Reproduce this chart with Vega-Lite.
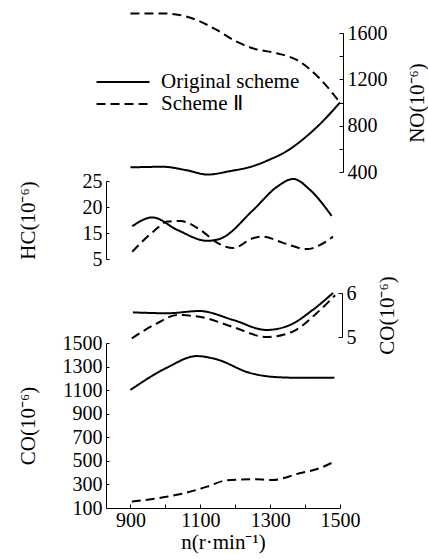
{
  "$schema": "https://vega.github.io/schema/vega-lite/v6.json",
  "width": 234,
  "height": 508,
  "autosize": "none",
  "padding": {"left": 106, "top": 0, "right": 88, "bottom": 51},
  "background": "white",
  "config": {
    "font": "Liberation Serif",
    "view": {"stroke": null},
    "axis": {"labelFont": "Liberation Serif", "titleFont": "Liberation Serif", "labelFontSize": 20, "titleFontSize": 21, "titleFontWeight": "normal", "labelColor": "black", "titleColor": "black", "domainColor": "black", "tickColor": "black", "grid": false},
    "legend": {"labelFont": "Liberation Serif", "labelFontSize": 21, "labelColor": "black"}
  },
  "data": {"values": [
    {"p": "NO", "s": "Original scheme", "n": 900, "v": 440},
    {"p": "NO", "s": "Original scheme", "n": 993, "v": 445},
    {"p": "NO", "s": "Original scheme", "n": 1061, "v": 415},
    {"p": "NO", "s": "Original scheme", "n": 1121, "v": 378},
    {"p": "NO", "s": "Original scheme", "n": 1184, "v": 407},
    {"p": "NO", "s": "Original scheme", "n": 1250, "v": 450},
    {"p": "NO", "s": "Original scheme", "n": 1299, "v": 508},
    {"p": "NO", "s": "Original scheme", "n": 1347, "v": 579},
    {"p": "NO", "s": "Original scheme", "n": 1393, "v": 680},
    {"p": "NO", "s": "Original scheme", "n": 1441, "v": 809},
    {"p": "NO", "s": "Original scheme", "n": 1500, "v": 1000},
    {"p": "NO", "s": "Scheme Ⅱ", "n": 900, "v": 1769},
    {"p": "NO", "s": "Scheme Ⅱ", "n": 993, "v": 1769},
    {"p": "NO", "s": "Scheme Ⅱ", "n": 1041, "v": 1755},
    {"p": "NO", "s": "Scheme Ⅱ", "n": 1090, "v": 1712},
    {"p": "NO", "s": "Scheme Ⅱ", "n": 1147, "v": 1626},
    {"p": "NO", "s": "Scheme Ⅱ", "n": 1204, "v": 1525},
    {"p": "NO", "s": "Scheme Ⅱ", "n": 1250, "v": 1468},
    {"p": "NO", "s": "Scheme Ⅱ", "n": 1319, "v": 1425},
    {"p": "NO", "s": "Scheme Ⅱ", "n": 1376, "v": 1368},
    {"p": "NO", "s": "Scheme Ⅱ", "n": 1441, "v": 1210},
    {"p": "NO", "s": "Scheme Ⅱ", "n": 1500, "v": 1000},
    {"p": "HC", "s": "Original scheme", "n": 905, "v": 16.3},
    {"p": "HC", "s": "Original scheme", "n": 963, "v": 18.0},
    {"p": "HC", "s": "Original scheme", "n": 1034, "v": 15.6},
    {"p": "HC", "s": "Original scheme", "n": 1120, "v": 13.5},
    {"p": "HC", "s": "Original scheme", "n": 1157, "v": 13.9},
    {"p": "HC", "s": "Original scheme", "n": 1251, "v": 19.4},
    {"p": "HC", "s": "Original scheme", "n": 1320, "v": 23.9},
    {"p": "HC", "s": "Original scheme", "n": 1366, "v": 25.4},
    {"p": "HC", "s": "Original scheme", "n": 1414, "v": 23.3},
    {"p": "HC", "s": "Original scheme", "n": 1476, "v": 18.3},
    {"p": "HC", "s": "Scheme Ⅱ", "n": 905, "v": 11.4},
    {"p": "HC", "s": "Scheme Ⅱ", "n": 966, "v": 15.3},
    {"p": "HC", "s": "Scheme Ⅱ", "n": 1006, "v": 17.2},
    {"p": "HC", "s": "Scheme Ⅱ", "n": 1043, "v": 17.3},
    {"p": "HC", "s": "Scheme Ⅱ", "n": 1100, "v": 15.6},
    {"p": "HC", "s": "Scheme Ⅱ", "n": 1149, "v": 13.1},
    {"p": "HC", "s": "Scheme Ⅱ", "n": 1194, "v": 12.1},
    {"p": "HC", "s": "Scheme Ⅱ", "n": 1251, "v": 14.0},
    {"p": "HC", "s": "Scheme Ⅱ", "n": 1280, "v": 14.3},
    {"p": "HC", "s": "Scheme Ⅱ", "n": 1337, "v": 13.1},
    {"p": "HC", "s": "Scheme Ⅱ", "n": 1406, "v": 11.9},
    {"p": "HC", "s": "Scheme Ⅱ", "n": 1443, "v": 12.7},
    {"p": "HC", "s": "Scheme Ⅱ", "n": 1480, "v": 14.3},
    {"p": "COs", "s": "Original scheme", "n": 907, "v": 5.56},
    {"p": "COs", "s": "Original scheme", "n": 1004, "v": 5.54},
    {"p": "COs", "s": "Original scheme", "n": 1098, "v": 5.59},
    {"p": "COs", "s": "Original scheme", "n": 1193, "v": 5.39},
    {"p": "COs", "s": "Original scheme", "n": 1290, "v": 5.16},
    {"p": "COs", "s": "Original scheme", "n": 1356, "v": 5.27},
    {"p": "COs", "s": "Original scheme", "n": 1421, "v": 5.61},
    {"p": "COs", "s": "Original scheme", "n": 1480, "v": 6.0},
    {"p": "COs", "s": "Scheme Ⅱ", "n": 904, "v": 4.97},
    {"p": "COs", "s": "Scheme Ⅱ", "n": 976, "v": 5.31},
    {"p": "COs", "s": "Scheme Ⅱ", "n": 1034, "v": 5.5},
    {"p": "COs", "s": "Scheme Ⅱ", "n": 1098, "v": 5.46},
    {"p": "COs", "s": "Scheme Ⅱ", "n": 1193, "v": 5.23},
    {"p": "COs", "s": "Scheme Ⅱ", "n": 1290, "v": 5.0},
    {"p": "COs", "s": "Scheme Ⅱ", "n": 1364, "v": 5.12},
    {"p": "COs", "s": "Scheme Ⅱ", "n": 1433, "v": 5.54},
    {"p": "COs", "s": "Scheme Ⅱ", "n": 1486, "v": 5.95},
    {"p": "CO", "s": "Original scheme", "n": 900, "v": 1102},
    {"p": "CO", "s": "Original scheme", "n": 1004, "v": 1290},
    {"p": "CO", "s": "Original scheme", "n": 1090, "v": 1389},
    {"p": "CO", "s": "Original scheme", "n": 1147, "v": 1361},
    {"p": "CO", "s": "Original scheme", "n": 1241, "v": 1247},
    {"p": "CO", "s": "Original scheme", "n": 1307, "v": 1213},
    {"p": "CO", "s": "Original scheme", "n": 1384, "v": 1205},
    {"p": "CO", "s": "Original scheme", "n": 1484, "v": 1205},
    {"p": "CO", "s": "Scheme Ⅱ", "n": 904, "v": 154},
    {"p": "CO", "s": "Scheme Ⅱ", "n": 1004, "v": 196},
    {"p": "CO", "s": "Scheme Ⅱ", "n": 1061, "v": 230},
    {"p": "CO", "s": "Scheme Ⅱ", "n": 1119, "v": 281},
    {"p": "CO", "s": "Scheme Ⅱ", "n": 1176, "v": 335},
    {"p": "CO", "s": "Scheme Ⅱ", "n": 1250, "v": 344},
    {"p": "CO", "s": "Scheme Ⅱ", "n": 1307, "v": 338},
    {"p": "CO", "s": "Scheme Ⅱ", "n": 1384, "v": 395},
    {"p": "CO", "s": "Scheme Ⅱ", "n": 1441, "v": 437},
    {"p": "CO", "s": "Scheme Ⅱ", "n": 1484, "v": 494}
  ]},
  "encoding": {
    "x": {"field": "n", "type": "quantitative",
      "scale": {"domain": [830, 1500], "nice": false, "zero": false},
      "axis": {"title": "n(r·min⁻¹)", "values": [900, 1000, 1100, 1200, 1300, 1400, 1500],
        "labelExpr": "datum.value % 200 == 100 ? datum.label : ''", "format": "d",
        "tickSize": -4, "labelPadding": 6, "titlePadding": 1, "labelFlush": false}},
    "strokeDash": {"field": "s", "type": "nominal",
      "scale": {"domain": ["Original scheme", "Scheme Ⅱ"], "range": [[1, 0], [9, 5]]},
      "legend": {"orient": "none", "legendX": 5, "legendY": 70, "title": null,
        "symbolType": "M-2.5,0H2.5", "symbolSize": 449, "symbolStrokeWidth": 2,
        "symbolStrokeColor": "black", "symbolFillColor": "transparent", "labelOffset": 26, "rowPadding": 0,
        "labelFont": "Liberation Serif"}}
  },
  "layer": [
    {"transform": [{"filter": "datum.p == 'NO'"}],
     "mark": {"type": "line", "interpolate": "monotone", "color": "black", "strokeWidth": 2},
     "encoding": {"y": {"field": "v", "type": "quantitative",
       "scale": {"domain": [400, 1600], "range": [172, 33], "nice": false, "zero": false},
       "axis": {"orient": "right", "offset": 3, "title": "NO(10⁻⁶)", "titleAngle": 270,
         "values": [400, 600, 800, 1000, 1200, 1400, 1600],
         "labelExpr": "datum.value % 400 == 0 ? datum.label : ''", "format": "d",
         "tickSize": -4, "labelPadding": 8, "titlePadding": 40,
         "labelFont": "Liberation Serif"}}}},
    {"transform": [{"filter": "datum.p == 'HC'"}],
     "mark": {"type": "line", "interpolate": "monotone", "color": "black", "strokeWidth": 2},
     "encoding": {"y": {"field": "v", "type": "quantitative",
       "scale": {"domain": [10, 25], "range": [259, 181], "nice": false, "zero": false},
       "axis": {"orient": "left", "offset": 0, "title": "HC(10⁻⁶)",
         "values": [10, 15, 20, 25],
         "labelExpr": "datum.value == 10 ? '5' : datum.label",
         "tickSize": -3, "labelPadding": 7, "titlePadding": 44,
         "labelFont": "Liberation Serif"}}}},
    {"transform": [{"filter": "datum.p == 'COs'"}],
     "mark": {"type": "line", "interpolate": "monotone", "color": "black", "strokeWidth": 2},
     "encoding": {"y": {"field": "v", "type": "quantitative",
       "scale": {"domain": [5, 6], "range": [337, 293], "nice": false, "zero": false},
       "axis": {"orient": "right", "offset": 2, "title": "CO(10⁻⁶)", "titleAngle": 270,
         "values": [5, 6], "format": "d",
         "tickSize": -4, "labelPadding": 8, "titlePadding": 41,
         "labelFont": "Liberation Serif"}}}},
    {"transform": [{"filter": "datum.p == 'CO'"}],
     "mark": {"type": "line", "interpolate": "monotone", "color": "black", "strokeWidth": 2},
     "encoding": {"y": {"field": "v", "type": "quantitative",
       "scale": {"domain": [100, 1500], "range": [508, 343], "nice": false, "zero": false},
       "axis": {"orient": "left", "offset": 0, "title": "CO(10⁻⁶)",
         "values": [100, 300, 500, 700, 900, 1100, 1300, 1500], "format": "d",
         "tickSize": -3, "labelPadding": 7, "titlePadding": 24,
         "labelFont": "Liberation Serif"}}}}
  ],
  "resolve": {"scale": {"y": "independent"}, "axis": {"y": "independent"}}
}
